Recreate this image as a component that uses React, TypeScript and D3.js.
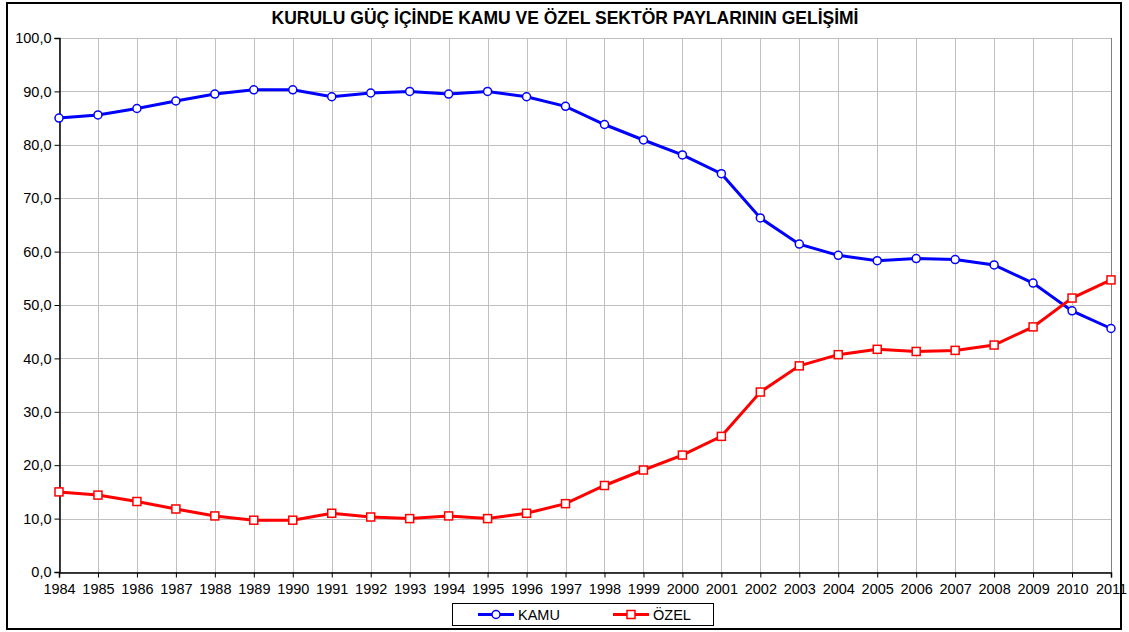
import React, { useEffect, useRef } from 'react';
import * as d3 from 'd3';

const years = [
  1984, 1985, 1986, 1987, 1988, 1989, 1990, 1991, 1992, 1993, 1994, 1995, 1996, 1997,
  1998, 1999, 2000, 2001, 2002, 2003, 2004, 2005, 2006, 2007, 2008, 2009, 2010, 2011,
];
const kamu = [
  85.0, 85.6, 86.8, 88.2, 89.5, 90.3, 90.3, 89.0, 89.7, 90.0, 89.5, 90.0, 89.0, 87.2,
  83.8, 80.9, 78.1, 74.6, 66.3, 61.4, 59.3, 58.3, 58.7, 58.5, 57.5, 54.1, 48.9, 45.6,
];
const ozel = [
  15.0, 14.4, 13.2, 11.8, 10.5, 9.7, 9.7, 11.0, 10.3, 10.0, 10.5, 10.0, 11.0, 12.8,
  16.2, 19.1, 21.9, 25.4, 33.7, 38.6, 40.7, 41.7, 41.3, 41.5, 42.5, 45.9, 51.3, 54.7,
];
const yTicks = [0, 10, 20, 30, 40, 50, 60, 70, 80, 90, 100];

const W = 1129;
const H = 632;
const FONT = 'Liberation Sans, Arial, sans-serif';

export default function App() {
  const ref = useRef<SVGSVGElement>(null);

  useEffect(() => {
    const svg = d3.select(ref.current);
    svg.selectAll('*').remove();

    const left = 59, right = 1111, top = 38, bottom = 572;

    const x = d3.scaleLinear().domain([1984, 2011]).range([left, right]);
    const y = d3.scaleLinear().domain([0, 100]).range([bottom, top]);

    // outer frame
    svg.append('rect')
      .attr('x', 7).attr('y', 3).attr('width', 1114).attr('height', 626)
      .attr('fill', '#fff').attr('stroke', '#000').attr('stroke-width', 2);

    svg.append('text')
      .attr('x', 565).attr('y', 24)
      .attr('text-anchor', 'middle')
      .attr('font-family', FONT).attr('font-size', 17.5).attr('font-weight', 'bold')
      .text('KURULU GÜÇ İÇİNDE KAMU VE ÖZEL SEKTÖR PAYLARININ GELİŞİMİ');

    // grid
    const grid = svg.append('g').attr('stroke', '#c0c0c0').attr('stroke-width', 1);
    yTicks.forEach((t) => {
      grid.append('line')
        .attr('x1', left).attr('x2', right)
        .attr('y1', Math.round(y(t)) + 0.5).attr('y2', Math.round(y(t)) + 0.5);
    });
    years.forEach((yr) => {
      grid.append('line')
        .attr('x1', Math.round(x(yr)) + 0.5).attr('x2', Math.round(x(yr)) + 0.5)
        .attr('y1', top).attr('y2', bottom);
    });
    svg.append('line')
      .attr('x1', right + 0.5).attr('x2', right + 0.5).attr('y1', top).attr('y2', bottom)
      .attr('stroke', '#808080');

    // axes
    const yAxis = svg.append('g')
      .attr('transform', `translate(${left + 0.5},0)`)
      .call(d3.axisLeft(y).tickValues(yTicks).tickSize(5).tickPadding(3)
        .tickFormat((d) => d3.format('.1f')(d as number).replace('.', ',')));
    const xAxis = svg.append('g')
      .attr('transform', `translate(0,${bottom + 0.5})`)
      .call(d3.axisBottom(x).tickValues(years).tickSize(5).tickPadding(6)
        .tickFormat((d) => String(d)));
    [yAxis, xAxis].forEach((a) => {
      a.select('.domain').attr('stroke', '#000').attr('stroke-width', 1.5);
      a.selectAll('.tick line').attr('stroke', '#000');
      a.selectAll('.tick text')
        .attr('font-family', FONT).attr('font-size', 14.5).attr('fill', '#000');
    });

    const line = d3.line<number>()
      .x((_, i) => x(years[i]))
      .y((d) => y(d));

    const series = [
      { values: kamu, color: '#0000ff', marker: 'circle' },
      { values: ozel, color: '#ff0000', marker: 'square' },
    ];
    series.forEach((s) => {
      svg.append('path')
        .datum(s.values)
        .attr('fill', 'none')
        .attr('stroke', s.color)
        .attr('stroke-width', 3)
        .attr('d', line);
      const g = svg.append('g');
      s.values.forEach((v, i) => {
        if (s.marker === 'circle') {
          g.append('circle')
            .attr('cx', x(years[i])).attr('cy', y(v)).attr('r', 4)
            .attr('fill', '#fff').attr('stroke', s.color).attr('stroke-width', 1.5);
        } else {
          g.append('rect')
            .attr('x', x(years[i]) - 4).attr('y', y(v) - 4)
            .attr('width', 8).attr('height', 8)
            .attr('fill', '#fff').attr('stroke', s.color).attr('stroke-width', 1.5);
        }
      });
    });

    // legend
    const lg = svg.append('g');
    lg.append('rect')
      .attr('x', 452.5).attr('y', 603.5).attr('width', 261).attr('height', 22)
      .attr('fill', '#fff').attr('stroke', '#000');
    const items = [
      { label: 'KAMU', color: '#0000ff', marker: 'circle', x0: 478 },
      { label: 'ÖZEL', color: '#ff0000', marker: 'square', x0: 613 },
    ];
    items.forEach((it) => {
      const cy = 614.5;
      lg.append('line')
        .attr('x1', it.x0).attr('x2', it.x0 + 36).attr('y1', cy).attr('y2', cy)
        .attr('stroke', it.color).attr('stroke-width', 3);
      if (it.marker === 'circle') {
        lg.append('circle').attr('cx', it.x0 + 18).attr('cy', cy).attr('r', 4)
          .attr('fill', '#fff').attr('stroke', it.color).attr('stroke-width', 1.5);
      } else {
        lg.append('rect').attr('x', it.x0 + 14).attr('y', cy - 4).attr('width', 8).attr('height', 8)
          .attr('fill', '#fff').attr('stroke', it.color).attr('stroke-width', 1.5);
      }
      lg.append('text')
        .attr('x', it.x0 + 40).attr('y', cy + 5)
        .attr('font-family', FONT).attr('font-size', 14.5)
        .text(it.label);
    });
  }, []);

  return (
    <svg ref={ref} width={W} height={H} style={{ position: 'absolute', left: 0, top: 0 }} />
  );
}
